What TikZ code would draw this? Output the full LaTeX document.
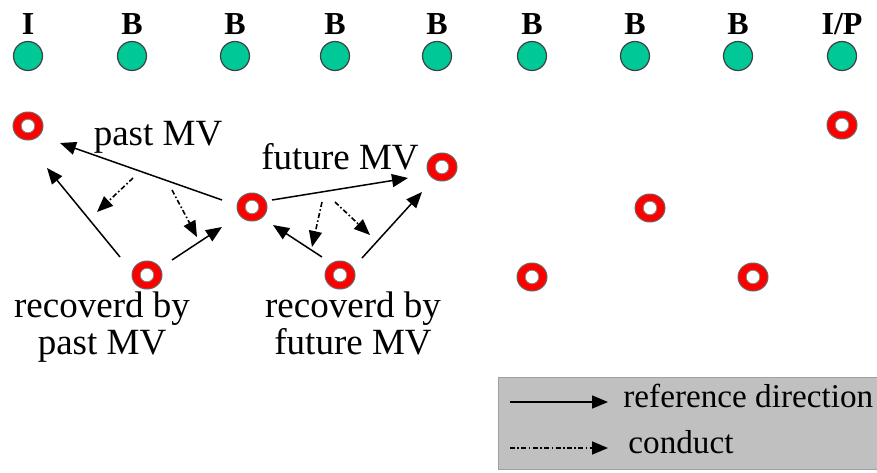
\documentclass[tikz,border=0pt]{standalone}
\usepackage{fontspec}
\setmainfont{Liberation Serif}
\usetikzlibrary{arrows.meta,calc}
\definecolor{frameGreen}{RGB}{0,200,150}
\definecolor{legendGray}{RGB}{192,192,192}
\definecolor{legendEdge}{RGB}{160,160,160}
\tikzset{
  frame/.style={circle, fill=frameGreen, draw=black!75, line width=0.6pt,
    minimum width=14.5pt, minimum height=13.5pt, inner sep=0pt},
  ring/.style={ellipse, fill=red, draw=black!60, line width=0.5pt,
    minimum width=15pt, minimum height=14pt, inner sep=0pt,
    path picture={\draw[black!50, line width=0.4pt, fill=white]
      (path picture bounding box.center) circle (3.4pt);}},
  ftype/.style={font=\fontsize{16}{16}\selectfont\bfseries},
  lbl/.style={font=\fontsize{18.5}{18.5}\selectfont, align=center, inner sep=0pt},
  leg/.style={font=\fontsize{16.6}{16.6}\selectfont, anchor=base west, inner sep=0pt},
  ref/.style={line width=0.75pt, -{Triangle[length=8pt, width=6.5pt]}},
  conduct/.style={line width=0.8pt, dash pattern=on 2.5pt off 1.2pt on 0.8pt off 1.2pt,
    -{Triangle[length=8pt, width=6.5pt]}},
}
\usetikzlibrary{shapes.geometric}
\begin{document}
\begin{tikzpicture}[x=0.5pt, y=-0.5pt]
\useasboundingbox (0,0) rectangle (877,472);

% frame types
\foreach \x/\t [count=\i] in {28/I, 132/B, 235/B, 335/B, 437/B, 532/B, 635/B, 738/B, 842/{I/P}} {
  \node[ftype] (t\i) at (\x,24) {\t};
  \node[frame] (f\i) at (\x,56) {};
}

% motion vector positions
\node[ring] (r1) at (28,126) {};
\node[ring] (r2) at (252,207) {};
\node[ring] (r3) at (442,167) {};
\node[ring] (r4) at (147,275) {};
\node[ring] (r5) at (340,275) {};
\node[ring] (r6) at (650,208) {};
\node[ring] (r7) at (532,277) {};
\node[ring] (r8) at (753,277) {};
\node[ring] (r9) at (842,125) {};

% reference arrows
\draw[ref] ($(r2)+(-30,-7)$) -- ($(r1)+(32,17)$);
\draw[ref] ($(r4)+(-27,-18)$) -- ($(r1)+(19,42)$);
\draw[ref] ($(r4)+(25,-15)$) -- ($(r2)+(-30,20)$);
\draw[ref] ($(r2)+(20,-7)$) -- ($(r3)+(-34,11)$);
\draw[ref] ($(r5)+(-18,-18)$) -- ($(r2)+(21,18)$);
\draw[ref] ($(r5)+(22,-17)$) -- ($(r3)+(-20,25)$);

% conducted arrows
\draw[conduct] ($(r4)+(-14,-97)$) -- ($(r4)+(-50,-63)$);
\draw[conduct] ($(r4)+(25,-85)$) -- ($(r4)+(50,-38)$);
\draw[conduct] ($(r5)+(-18,-73)$) -- ($(r5)+(-28,-28)$);
\draw[conduct] ($(r5)+(-5,-73)$) -- ($(r5)+(30,-40)$);

% labels
\node[lbl] (lp) at (158,137) {past MV};
\node[lbl] (lf) at (340,157) {future MV};
\node[lbl, anchor=north] (rp) at (102,291) {recoverd by\\past MV};
\node[lbl, anchor=north] (rf) at (353,291) {recoverd by\\future MV};

% legend (its right edge runs past the page)
\node[draw=legendEdge, fill=legendGray, line width=0.6pt, minimum width=205pt,
  minimum height=46pt, anchor=north west, inner sep=0pt] (legend) at (498,377) {};
\coordinate (l1a) at ($(legend.north west)+(12,25)$);
\coordinate (l1b) at ($(legend.north west)+(110,25)$);
\coordinate (l2a) at ($(legend.north west)+(12,71)$);
\coordinate (l2b) at ($(legend.north west)+(110,71)$);
\draw[ref] (l1a) -- (l1b);
\draw[conduct] (l2a) -- (l2b);
\node[leg] (lt1) at ($(legend.north west)+(125,30)$) {reference direction};
\node[leg] (lt2) at ($(legend.north west)+(130,76)$) {conduct};
\end{tikzpicture}
\end{document}
